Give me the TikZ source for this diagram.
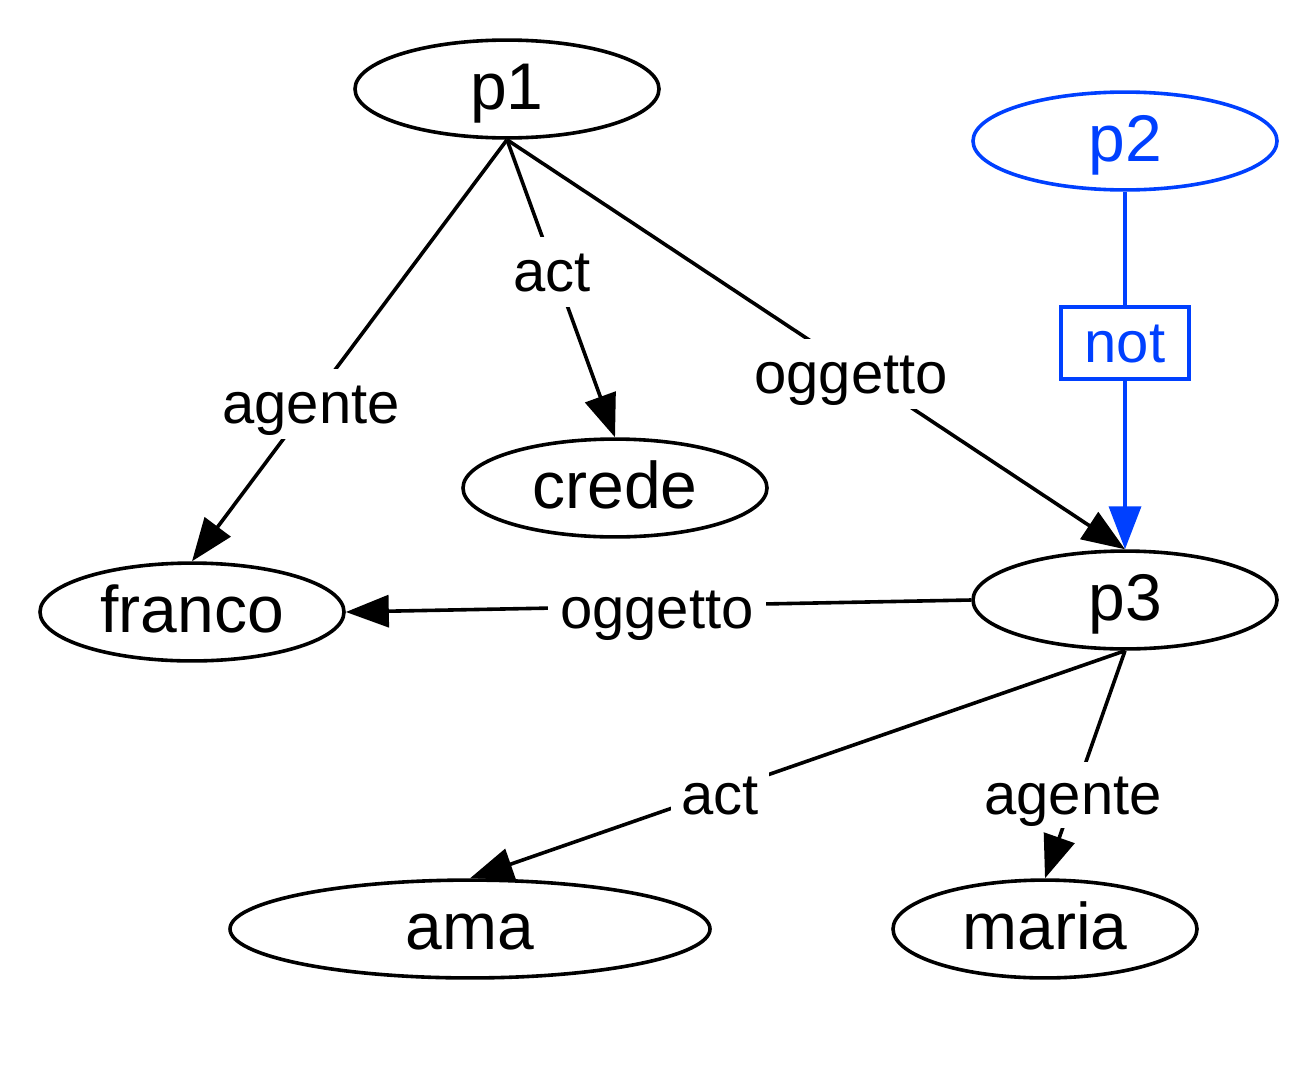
\documentclass[tikz,border=0pt]{standalone}
\usepackage{fontspec}
\setmainfont{Liberation Sans}
\usetikzlibrary{shapes.geometric,arrows.meta}
\definecolor{gvblue}{RGB}{0,64,255}
\begin{document}
\begin{tikzpicture}[x=0.5pt,y=-0.5pt,
  ell/.style={draw,ellipse,line width=1.8pt,inner sep=0pt,minimum width=152pt,minimum height=48pt,text height=27.6pt,text depth=7pt,font=\fontsize{33}{40}\selectfont},
  wide/.style={minimum width=240pt},
  lbl/.style={fill=white,inner sep=2pt,text height=25pt,text depth=6pt,font=\fontsize{29}{35}\selectfont},
  edge/.style={line width=1.8pt,-{Triangle[length=21.5pt,width=16pt]}}]
\useasboundingbox (0,0) rectangle (1310,1076);
\node[ell] (p1) at (507,89) {p1};
\node[ell,draw=gvblue,text=gvblue] (p2) at (1125,141) {p2};
\node[ell] (crede) at (615,488) {crede};
\node[ell] (franco) at (192,612) {franco};
\node[ell] (p3) at (1125,600) {p3};
\node[ell,wide] (ama) at (470,929) {ama};
\node[ell] (maria) at (1045,929) {maria};

\draw[edge] (p1.south) -- (franco.north);
\draw[edge] (p1.south) -- (crede.north);
\draw[edge] (p1.south) -- (p3.north);
\draw[edge,draw=gvblue,fill=gvblue] (p2.south) -- (p3.north);
\draw[edge] (p3.west) -- (franco.east);
\draw[edge] (p3.south) -- (ama.north);
\draw[edge] (p3.south) -- (maria.north);

\node[lbl] (l1) at (311,404) {agente};
\node[lbl] (l2) at (552,272) {act};
\node[lbl] (l3) at (851,374) {oggetto};
\node[lbl,draw=gvblue,text=gvblue,line width=1.8pt,minimum width=64pt,minimum height=36pt,inner sep=0pt] (l4) at (1125,343) {not};
\node[lbl,inner sep=6pt] (l5) at (657,609) {oggetto};
\node[lbl,inner sep=5pt] (l6) at (720,795) {act};
\node[lbl,inner sep=1pt] (l7) at (1073,795) {agente};
\end{tikzpicture}
\end{document}
